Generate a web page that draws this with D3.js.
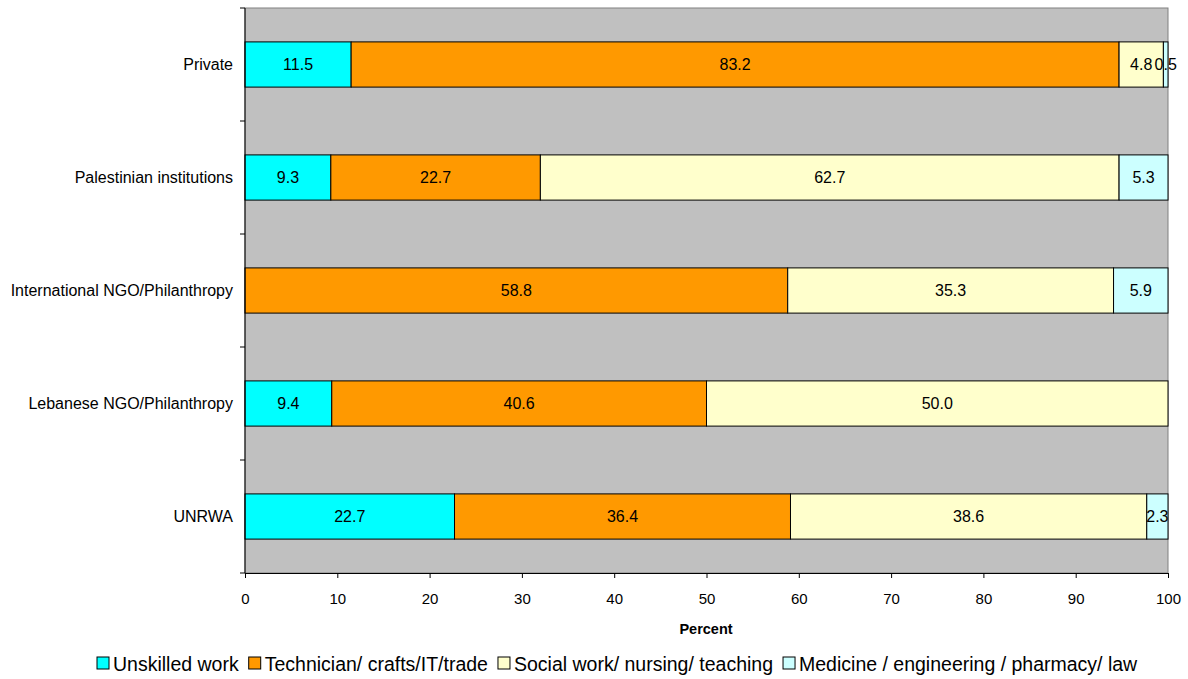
<!DOCTYPE html>
<html><head><meta charset="utf-8">
<script src="https://cdn.jsdelivr.net/npm/d3@7"></script>
<style>body{margin:0;background:#fff;font-family:"Liberation Sans",Arial,sans-serif;}</style>
</head><body><svg id="c" width="1188" height="679"></svg>
<script>
const categories = ["Private","Palestinian institutions","International NGO/Philanthropy","Lebanese NGO/Philanthropy","UNRWA"];
const seriesNames = ["Unskilled work","Technician/ crafts/IT/trade","Social work/ nursing/ teaching","Medicine / engineering / pharmacy/ law"];
const unskilled = [11.5, 9.3, 0, 9.4, 22.7];
const technician = [83.2, 22.7, 58.8, 40.6, 36.4];
const social = [4.8, 62.7, 35.3, 50.0, 38.6];
const medicine = [0.5, 5.3, 5.9, 0, 2.3];
const xTicks = [0,10,20,30,40,50,60,70,80,90,100];
const colors = ["#00FFFF","#FF9900","#FFFFCC","#CCFFFF"];

const svg = d3.select("#c");
const L=245, R=1168, T=8, B=573;
const x = d3.scaleLinear().domain([0,100]).range([L,R]);
const y = d3.scaleBand().domain(categories).range([T,B]).paddingInner(0.6).paddingOuter(0.3);
const yb = d3.scaleBand().domain(categories).range([T,B]);

svg.append("rect").attr("x",L).attr("y",T).attr("width",R-L).attr("height",B-T).attr("fill","#C0C0C0").attr("stroke","#808080").attr("stroke-width",1);

const series=[unskilled,technician,social,medicine];
categories.forEach((c,i)=>{
  let acc=0;
  series.forEach((s,k)=>{
    const v=s[i];
    if(v>0){
      const x0=x(acc), x1=x(acc+v);
      svg.append("rect").attr("x",x0).attr("y",y(c)).attr("width",x1-x0).attr("height",y.bandwidth())
        .attr("fill",colors[k]).attr("stroke","#000").attr("stroke-width",1);
      svg.append("text").attr("x",(x0+x1)/2).attr("y",y(c)+y.bandwidth()/2).attr("dy","0.35em")
        .attr("text-anchor","middle").attr("font-size",16).attr("fill","#000").text(v.toFixed(1));
    }
    acc+=v;
  });
});

// axes
const xa = svg.append("g").attr("transform",`translate(0,${B})`).call(d3.axisBottom(x).tickValues(xTicks).tickSize(5).tickSizeOuter(0).tickPadding(15));
xa.select(".domain").attr("stroke","#000");
xa.selectAll("text").attr("font-size",15).attr("font-family","Liberation Sans, Arial, sans-serif").attr("fill","#000");

const yg = svg.append("g");
yg.append("line").attr("x1",L).attr("x2",L).attr("y1",T).attr("y2",B).attr("stroke","#000");
const tickYs=[T].concat(categories.map(c=>yb(c)+yb.bandwidth()));
tickYs.forEach(t=>yg.append("line").attr("x1",L-5).attr("x2",L).attr("y1",t).attr("y2",t).attr("stroke","#000"));
categories.forEach(c=>{
  svg.append("text").attr("x",233).attr("y",yb(c)+yb.bandwidth()/2).attr("dy","0.35em").attr("text-anchor","end")
    .attr("font-size",16).text(c);
});

svg.append("text").attr("x",706).attr("y",634).attr("text-anchor","middle").attr("font-size",14.5).attr("font-weight","bold").text("Percent");

// legend
const lg = svg.append("g");
let lx = 97;
seriesNames.forEach((n,k)=>{
  lg.append("rect").attr("x",lx).attr("y",657).attr("width",12).attr("height",12).attr("fill",colors[k]).attr("stroke","#000");
  const t=lg.append("text").attr("x",lx+16).attr("y",671).attr("font-size",19.5).text(n);
  lx += 16 + t.node().getComputedTextLength() + 10;
});
</script></body></html>
